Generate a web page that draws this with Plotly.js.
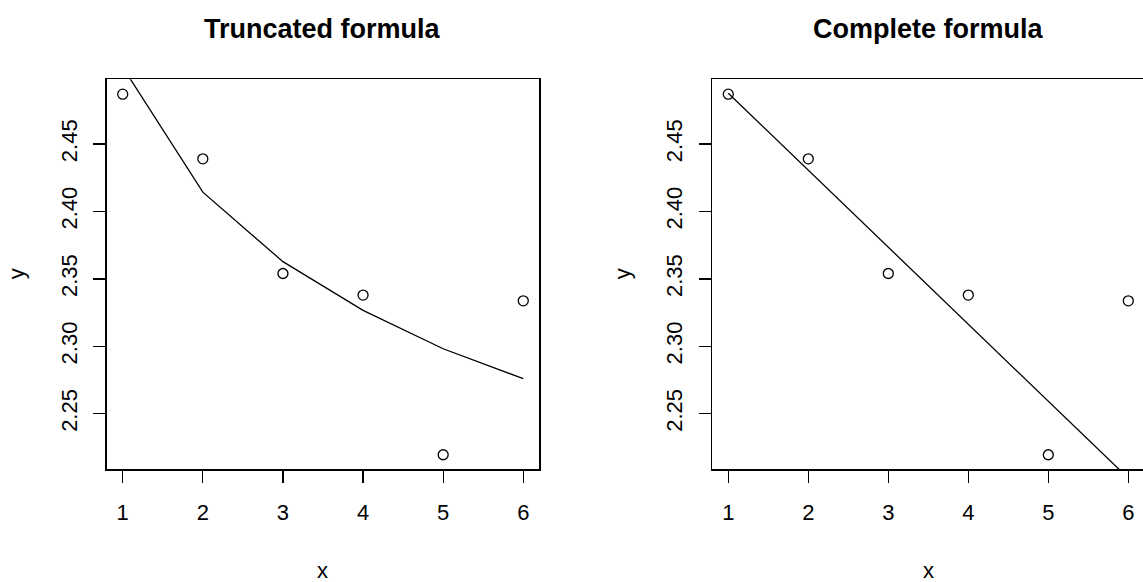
<!DOCTYPE html>
<html>
<head>
<meta charset="utf-8">
<script src="https://cdn.plot.ly/plotly-3.0.1.min.js"></script>
<style>
html, body { margin: 0; padding: 0; overflow: hidden; background: #fff; }
#chart { width: 1160px; height: 582px; }
</style>
</head>
<body>
<div id="chart"></div>
<script>
// Data
const xValues = [1, 2, 3, 4, 5, 6];
const yObserved = [2.487, 2.439, 2.354, 2.338, 2.2196, 2.3337];
const yTruncatedFit = [2.507, 2.4143, 2.3628, 2.3267, 2.2982, 2.276];
const yCompleteFit = [2.4877, 2.4306, 2.3735, 2.3164, 2.2593, 2.2022];
const panelTitles = ["Truncated formula", "Complete formula"];
const xTicks = [1, 2, 3, 4, 5, 6];
const yTicks = [2.25, 2.30, 2.35, 2.40, 2.45];
const yTickText = ["2.25", "2.30", "2.35", "2.40", "2.45"];

const W = 1160, H = 582;
const px = v => v / W;
const py = v => 1 - v / H;

const FONT = "Liberation Sans, Arial, Helvetica, sans-serif";

const markerStyle = { symbol: "circle-open", size: 10, color: "#000", line: { color: "#000", width: 1.3 } };
const lineStyle = { color: "#000", width: 1.3 };

const traces = [
  { x: xValues, y: yObserved, mode: "markers", marker: markerStyle, xaxis: "x", yaxis: "y", cliponaxis: false },
  { x: xValues, y: yTruncatedFit, mode: "lines", line: lineStyle, xaxis: "x", yaxis: "y" },
  { x: xValues, y: yObserved, mode: "markers", marker: markerStyle, xaxis: "x2", yaxis: "y2", cliponaxis: false },
  { x: xValues, y: yCompleteFit, mode: "lines", line: lineStyle, xaxis: "x2", yaxis: "y2" }
];

function xAxis(domain, anchor) {
  return {
    domain: domain, anchor: anchor, range: [0.8, 6.2],
    tickmode: "array", tickvals: xTicks, ticktext: xTicks.map(String),
    ticks: "outside", ticklen: 12, tickwidth: 1.3, tickcolor: "#000",
    showline: true, linecolor: "#000", linewidth: 1.3, mirror: true,
    showgrid: false, zeroline: false,
    tickfont: { family: FONT, size: 22, color: "#000" },
    ticklabelstandoff: 11
  };
}
function yAxis(domain, anchor) {
  return {
    domain: domain, anchor: anchor, range: [2.2088, 2.498],
    tickmode: "array", tickvals: yTicks, ticktext: yTickText, tickangle: -90,
    ticks: "outside", ticklen: 12, tickwidth: 1.3, tickcolor: "#000",
    showline: true, linecolor: "#000", linewidth: 1.3, mirror: true,
    showgrid: false, zeroline: false,
    tickfont: { family: FONT, size: 22, color: "#000" },
    ticklabelstandoff: 8
  };
}

const yDom = [py(469.3), py(79.3)];

const annFont = { family: FONT, size: 22, color: "#000" };
const annotations = [
  { text: "<b>" + panelTitles[0] + "</b>", x: px(323), y: py(28.5), xref: "paper", yref: "paper", showarrow: false, xanchor: "center", yanchor: "middle", font: { family: FONT, size: 27, color: "#000" } },
  { text: "<b>" + panelTitles[1] + "</b>", x: px(928.3), y: py(28.5), xref: "paper", yref: "paper", showarrow: false, xanchor: "center", yanchor: "middle", font: { family: FONT, size: 27, color: "#000" } },
  { text: "x", x: px(323), y: py(570), xref: "paper", yref: "paper", showarrow: false, xanchor: "center", yanchor: "middle", font: annFont },
  { text: "x", x: px(928.3), y: py(570), xref: "paper", yref: "paper", showarrow: false, xanchor: "center", yanchor: "middle", font: annFont },
  { text: "y", x: px(16), y: py(274.3), xref: "paper", yref: "paper", showarrow: false, xanchor: "center", yanchor: "middle", textangle: -90, font: annFont },
  { text: "y", x: px(622), y: py(274.3), xref: "paper", yref: "paper", showarrow: false, xanchor: "center", yanchor: "middle", textangle: -90, font: annFont }
];

const layout = {
  width: W, height: H,
  margin: { l: 0, r: 0, t: 0, b: 0, pad: 0 },
  paper_bgcolor: "#fff", plot_bgcolor: "#fff",
  showlegend: false,
  font: { family: FONT, color: "#000" },
  xaxis: xAxis([px(106.7), px(539.3)], "y"),
  yaxis: yAxis(yDom, "x"),
  xaxis2: xAxis([px(712.3), px(1144.3)], "y2"),
  yaxis2: yAxis(yDom, "x2"),
  annotations: annotations
};

Plotly.newPlot("chart", traces, layout, { displayModeBar: false, staticPlot: true });
</script>
</body>
</html>
